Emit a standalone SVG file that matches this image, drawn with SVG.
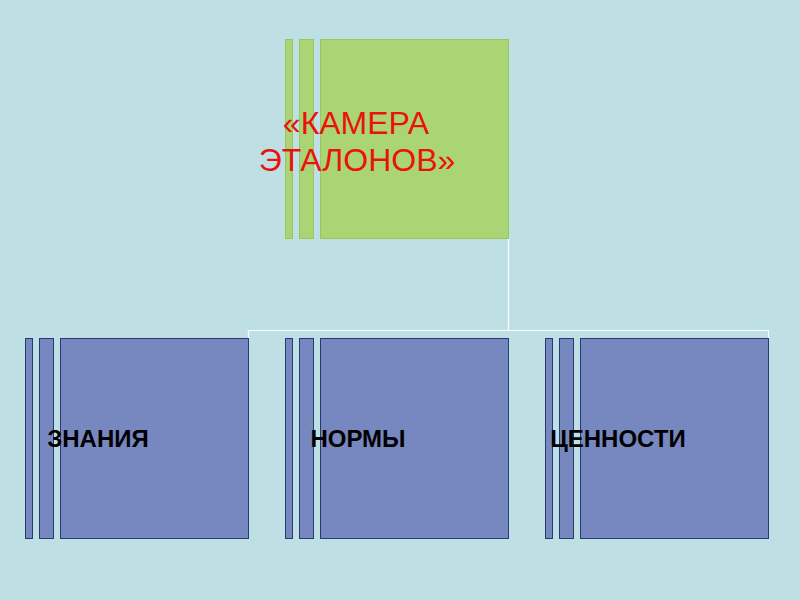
<svg xmlns="http://www.w3.org/2000/svg" width="800" height="600" viewBox="0 0 800 600">
<style>
.bg{fill:#bee0e5}
.g{fill:#abd574;stroke:#98c85c;stroke-width:1}
.b{fill:#7787c0;stroke:#283a72;stroke-width:1}
.conn{fill:none;stroke:#ffffff;stroke-width:1.2}
.title{font-family:"Liberation Sans",Arial,sans-serif;font-size:32px;fill:#e8130f;text-anchor:middle}
.lbl{font-family:"Liberation Sans",Arial,sans-serif;font-size:24px;font-weight:bold;fill:#000000;text-anchor:middle}
</style>
<rect class="bg" x="0" y="0" width="800" height="600"/>
<g id="connectors">
<path class="conn" d="M508.5,238 V330.5 M248.5,338 V330.5 H768.5 V338"/>
</g>
<g id="node-root">
<rect class="g" x="285.5" y="39.5" width="7" height="199"/>
<rect class="g" x="299.5" y="39.5" width="14" height="199"/>
<rect class="g" x="320.5" y="39.5" width="188" height="199"/>
<text class="title" x="356" y="134">«КАМЕРА</text>
<text class="title" x="357" y="171">ЭТАЛОНОВ»</text>
</g>
<g id="node-knowledge">
<rect class="b" x="25.5" y="338.5" width="7" height="200"/>
<rect class="b" x="39.5" y="338.5" width="14" height="200"/>
<rect class="b" x="60.5" y="338.5" width="188" height="200"/>
<text class="lbl" x="98" y="447">ЗНАНИЯ</text>
</g>
<g id="node-norms">
<rect class="b" x="285.5" y="338.5" width="7" height="200"/>
<rect class="b" x="299.5" y="338.5" width="14" height="200"/>
<rect class="b" x="320.5" y="338.5" width="188" height="200"/>
<text class="lbl" x="358" y="447">НОРМЫ</text>
</g>
<g id="node-values">
<rect class="b" x="545.5" y="338.5" width="7" height="200"/>
<rect class="b" x="559.5" y="338.5" width="14" height="200"/>
<rect class="b" x="580.5" y="338.5" width="188" height="200"/>
<text class="lbl" x="618" y="447">ЦЕННОСТИ</text>
</g>
</svg>
